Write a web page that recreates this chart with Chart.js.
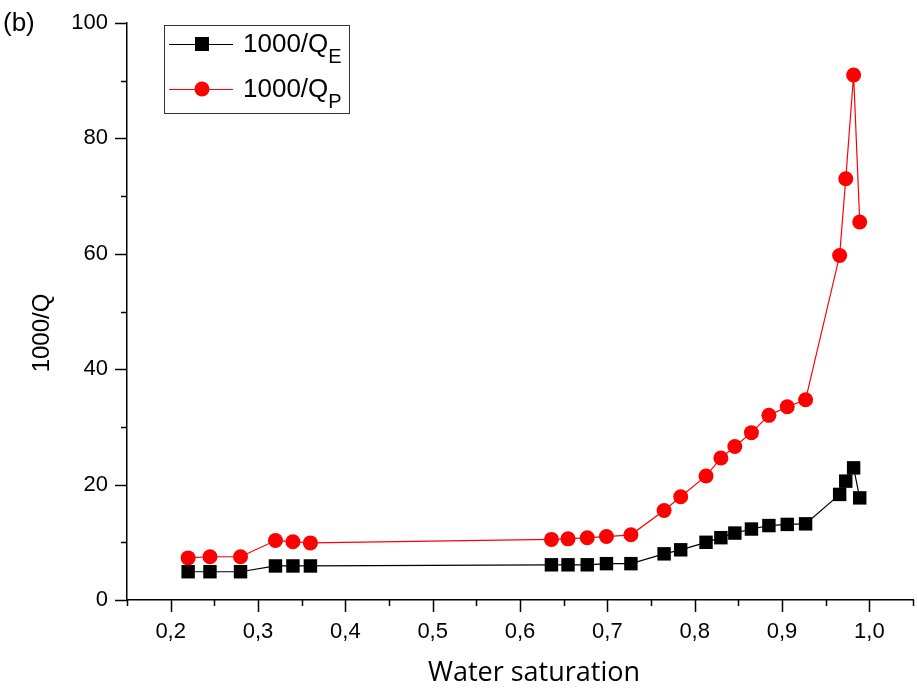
<!DOCTYPE html>
<html>
<head>
<meta charset="utf-8">
<script src="https://cdn.jsdelivr.net/npm/chart.js@4.4.0/dist/chart.umd.min.js"></script>
<style>
html, body { margin: 0; padding: 0; background: #fff; overflow: hidden; }
#grafico { display: block; }
</style>
</head>
<body>
<canvas id="grafico" width="917" height="690"></canvas>
<script>
// saturacion de agua (eje x), la misma para las dos series
var saturacion = [0.220, 0.245, 0.280, 0.320, 0.340, 0.360, 0.636, 0.655, 0.677, 0.699, 0.727, 0.765,
                  0.784, 0.813, 0.830, 0.846, 0.865, 0.885, 0.906, 0.927, 0.966, 0.973, 0.982, 0.989];
// 1000/Q_E (cuadrados negros)
var qE = [4.9, 4.9, 4.9, 5.9, 5.9, 5.9, 6.1, 6.1, 6.1, 6.3, 6.3, 8.0,
          8.7, 10.0, 10.8, 11.6, 12.3, 12.9, 13.1, 13.2, 18.3, 20.6, 22.9, 17.7];
// 1000/Q_P (circulos rojos)
var qP = [7.3, 7.5, 7.5, 10.3, 10.1, 9.9, 10.5, 10.6, 10.8, 11.0, 11.3, 15.5,
          17.9, 21.5, 24.6, 26.6, 29.0, 32.0, 33.5, 34.7, 59.7, 73.0, 91.0, 65.5];

var xMin = 0.15, xMax = 1.05, xPaso = 0.05, xPasoEtiqueta = 0.1;
var yMin = 0, yMax = 100, yPaso = 10, yPasoEtiqueta = 20;

var nombres = ['E', 'P'];
var colores = ['#000000', '#ff0000'];
var tituloX = 'Water saturation';
var tituloY = '1000/Q';

function puntos(xs, ys){
    return xs.map(function(x, i){ return { x: x, y: ys[i] }; });
}

function esMayor(v, paso){
    var r = v / paso;
    return Math.abs(r - Math.round(r)) < 1e-6;
}

function sinPadding(s){
    s.paddingLeft = 0; s.paddingRight = 0; s.paddingTop = 0; s.paddingBottom = 0;
}

// marcas de los ejes (largas con etiqueta, cortas sin ella) y textos sueltos
var marcas = {
    id: 'marcas',
    afterDraw: function(chart){
        var ctx = chart.ctx, xs = chart.scales.x, ys = chart.scales.y, a = chart.chartArea;
        ctx.save();
        ctx.strokeStyle = '#000';
        ctx.lineWidth = 1.5;
        ctx.beginPath();
        xs.ticks.forEach(function(t){
            var px = Math.round(xs.getPixelForValue(t.value)) + 0.5;
            var len = esMayor(t.value, xPasoEtiqueta) ? 12 : 6;
            ctx.moveTo(px, a.bottom);
            ctx.lineTo(px, a.bottom + len);
        });
        ys.ticks.forEach(function(t){
            var py = Math.round(ys.getPixelForValue(t.value)) + 0.5;
            var len = esMayor(t.value, yPasoEtiqueta) ? 12 : 6;
            ctx.moveTo(a.left, py);
            ctx.lineTo(a.left - len, py);
        });
        ctx.stroke();

        ctx.fillStyle = '#000';
        ctx.font = '26px "Liberation Sans", Arial, sans-serif';
        ctx.textBaseline = 'alphabetic';
        ctx.textAlign = 'left';
        ctx.fillText('(b)', 3, 31);

        ctx.textAlign = 'center';
        ctx.textBaseline = 'middle';
        ctx.font = '27px "Open Sans", sans-serif';
        ctx.fillText(tituloX, 534, 673);

        ctx.translate(42, 333);
        ctx.rotate(-Math.PI / 2);
        ctx.font = '24px "Liberation Sans", Arial, sans-serif';
        ctx.fillText(tituloY, 0, 0);
        ctx.restore();
    }
};

// leyenda con subindices
var leyenda = {
    id: 'leyenda',
    afterDraw: function(chart){
        var ctx = chart.ctx;
        ctx.save();
        ctx.strokeStyle = '#333';
        ctx.lineWidth = 1;
        ctx.strokeRect(164.5, 25.5, 185, 88);
        nombres.forEach(function(n, i){
            var y = 44 + i * 45;
            ctx.strokeStyle = colores[i];
            ctx.lineWidth = 1;
            ctx.beginPath();
            ctx.moveTo(169, y + 0.5);
            ctx.lineTo(233, y + 0.5);
            ctx.stroke();
            ctx.fillStyle = colores[i];
            if (i == 0) {
                ctx.fillRect(195, y - 7, 14, 14);
            } else {
                ctx.beginPath();
                ctx.arc(202, y, 7.5, 0, Math.PI * 2);
                ctx.fill();
            }
            ctx.fillStyle = '#000';
            ctx.textBaseline = 'alphabetic';
            ctx.textAlign = 'left';
            ctx.font = '26px "Liberation Sans", Arial, sans-serif';
            ctx.fillText('1000/Q', 243, y + 8);
            var w = ctx.measureText('1000/Q').width;
            ctx.font = '20px "Liberation Sans", Arial, sans-serif';
            ctx.fillText(n, 243 + w, y + 19);
        });
        ctx.restore();
    }
};

new Chart(document.getElementById('grafico'), {
    type: 'scatter',
    data: {
        datasets: [
            {
                label: '1000/Q_E',
                data: puntos(saturacion, qE),
                showLine: true,
                borderColor: colores[0],
                backgroundColor: colores[0],
                borderWidth: 1.2,
                pointStyle: 'rect',
                pointRadius: 9.5,
                pointHoverRadius: 9.5,
                pointBorderWidth: 0
            },
            {
                label: '1000/Q_P',
                data: puntos(saturacion, qP),
                showLine: true,
                borderColor: colores[1],
                backgroundColor: colores[1],
                borderWidth: 1.2,
                pointStyle: 'circle',
                pointRadius: 7.5,
                pointHoverRadius: 7.5,
                pointBorderWidth: 0
            }
        ]
    },
    options: {
        responsive: false,
        animation: false,
        devicePixelRatio: 1,
        layout: { autoPadding: false, padding: { top: 23, right: 4, left: 0, bottom: 0 } },
        plugins: {
            legend: { display: false },
            tooltip: { enabled: false }
        },
        scales: {
            x: {
                type: 'linear',
                min: xMin,
                max: xMax,
                afterFit: function(s){ s.height = 90; sinPadding(s); },
                grid: { display: false, drawTicks: false },
                border: { display: true, color: '#000', width: 1.5 },
                ticks: {
                    stepSize: xPaso,
                    autoSkip: false,
                    maxRotation: 0,
                    padding: 19,
                    color: '#000',
                    font: { family: '"Liberation Sans", Arial, sans-serif', size: 22 },
                    callback: function(v){
                        return esMayor(v, xPasoEtiqueta) ? v.toFixed(1).replace('.', ',') : '';
                    }
                },
                title: { display: false }
            },
            y: {
                min: yMin,
                max: yMax,
                afterFit: function(s){ s.width = 127; sinPadding(s); },
                grid: { display: false, drawTicks: false },
                border: { display: true, color: '#000', width: 1.5 },
                ticks: {
                    stepSize: yPaso,
                    autoSkip: false,
                    padding: 19,
                    color: '#000',
                    font: { family: '"Liberation Sans", Arial, sans-serif', size: 22 },
                    callback: function(v){
                        return esMayor(v, yPasoEtiqueta) ? String(v) : '';
                    }
                },
                title: { display: false }
            }
        }
    },
    plugins: [marcas, leyenda]
});
</script>
</body>
</html>
